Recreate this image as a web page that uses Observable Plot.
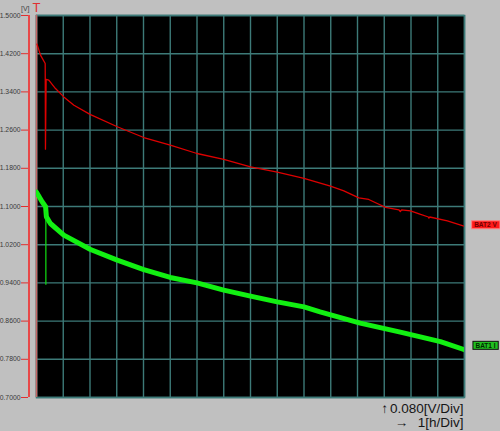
<!DOCTYPE html>
<html><head><meta charset="utf-8">
<style>
html,body{margin:0;padding:0;background:#c0c0c0;}
body{width:500px;height:431px;overflow:hidden;}
svg{display:block;}
</style>
<script src="https://cdn.jsdelivr.net/npm/d3@7"></script>
<script src="https://cdn.jsdelivr.net/npm/@observablehq/plot@0.6"></script>
</head><body><div id="chart"></div>
<script>
// time in hours (1 h per division), voltage in V (0.080 V per division)
const xDivisions = [0,1,2,3,4,5,6,7,8,9,10,11,12,13,14,15,16];
const yTicks = [0.70,0.78,0.86,0.94,1.02,1.10,1.18,1.26,1.34,1.42,1.50];

const bat2Hours = [0.02,0.15,0.325,0.335,0.36,0.46,0.71,1.02,1.40,2.0,3.02,4.01,5.0,6.0,7.0,8.0,9.0,10.0,10.99,11.49,12.05,12.42,12.74,13.05,13.55,13.6,13.65,13.98,14.36,14.65,14.67,14.7,15.36,15.98];
const bat2Volts = [1.440,1.417,1.3995,1.220,1.366,1.3645,1.347,1.3295,1.312,1.293,1.267,1.2445,1.2284,1.211,1.1985,1.183,1.172,1.1587,1.1425,1.1327,1.118,1.1147,1.1063,1.098,1.093,1.0895,1.093,1.0909,1.0833,1.078,1.0755,1.078,1.070,1.0588];

const bat1Hours = [0.0,0.21,0.34,0.37,0.52,1.02,2.02,3.02,4.01,5.0,6.0,7.0,8.0,9.0,10.0,10.6,12.1,13.6,15.1,16.0];
const bat1Volts = [1.130,1.110,1.0995,1.0783,1.0644,1.040,1.010,0.9876,0.968,0.9514,0.940,0.9248,0.9122,0.9003,0.8898,0.8794,0.8557,0.8368,0.817,0.800];

const bat1SpikeHour = [0.35];
const bat1SpikeLow = [0.935];
const bat1SpikeHigh = [1.09];

const traceNames = ["BAT2 V","BAT1 I"];
const scaleTexts = ["0.080[V/Div]","1[h/Div]"];

const bat2 = bat2Hours.map((t,i)=>({t, v:bat2Volts[i]}));
const bat1 = bat1Hours.map((t,i)=>({t, v:bat1Volts[i]}));
const spike = bat1SpikeHour.map((t,i)=>({t, lo:bat1SpikeLow[i], hi:bat1SpikeHigh[i]}));

const grid = "#3d7a78";
const red = "#e03030";
const font = "Liberation Sans, Arial, sans-serif";

const chart = Plot.plot({
  width:500, height:431,
  marginLeft:36, marginRight:36, marginTop:15, marginBottom:34,
  style:{background:"#c0c0c0", fontFamily:font},
  x:{domain:[0,16], axis:null},
  y:{domain:[0.7,1.5], label:null},
  marks:[
    Plot.frame({fill:"black"}),
    Plot.gridX(xDivisions, {stroke:grid, strokeOpacity:1, strokeWidth:1.4}),
    Plot.gridY(yTicks, {stroke:grid, strokeOpacity:1, strokeWidth:1.4}),
    Plot.frame({stroke:grid, strokeWidth:1.6}),
    Plot.ruleX([0], {stroke:"#c86868", strokeWidth:1.6}),
    Plot.axisY(yTicks, {tickFormat:d=>d.toFixed(4), tickSize:7, tickPadding:1, dx:-8, stroke:red, fill:"#3a3a3a", fontSize:6.8, label:null}),
    Plot.ruleX([0], {y1:0.7, y2:1.5, dx:-7.5, stroke:"#e84848", strokeWidth:2}),
    Plot.line(bat1, {x:"t", y:"v", stroke:"#12f012", strokeWidth:5, strokeLinejoin:"round", clip:true}),
    Plot.ruleX(spike, {x:"t", y1:"lo", y2:"hi", stroke:"#12e012", strokeWidth:1.2}),
    Plot.line(bat2, {x:"t", y:"v", stroke:"#dd0000", strokeWidth:1.3, clip:true}),
    Plot.text([0], {x:d=>d, frameAnchor:"top", dy:-8, text:()=>"T", fill:red, fontSize:13, lineAnchor:"middle"}),
    Plot.text([0], {frameAnchor:"top-left", dx:-7, dy:-7, text:()=>"[V]", textAnchor:"end", lineAnchor:"middle", fill:"#444", fontSize:7}),
    Plot.text([bat2[bat2.length-1]], {x:"t", y:"v", dx:21.5, dy:-1, text:()=>traceNames[0], textAnchor:"middle", lineAnchor:"middle", fontSize:6.5, fontWeight:"bold", fill:"#700000"}),
    Plot.text([bat1[bat1.length-1]], {x:"t", y:"v", dx:21, dy:-4, text:()=>traceNames[1], textAnchor:"middle", lineAnchor:"middle", fontSize:6.5, fontWeight:"bold", fill:"#002800"}),
    Plot.text([0], {frameAnchor:"bottom-right", dx:-1, dy:15, text:()=>scaleTexts[0], textAnchor:"end", lineAnchor:"bottom", fontSize:13.5, fill:"#151515"}),
    Plot.text([0], {frameAnchor:"bottom-right", dx:-1, dy:29, text:()=>scaleTexts[1], textAnchor:"end", lineAnchor:"bottom", fontSize:13.5, fill:"#151515"}),
    Plot.text([0], {frameAnchor:"bottom-right", dx:-80, dy:15, text:()=>"↑", textAnchor:"middle", lineAnchor:"bottom", fontSize:13.5, fill:"#151515"}),
    Plot.text([0], {frameAnchor:"bottom-right", dx:-63, dy:29, text:()=>"→", textAnchor:"middle", lineAnchor:"bottom", fontSize:13.5, fill:"#151515"})
  ]
});
document.getElementById("chart").append(chart);

function boxLabel(name, fill, stroke){
  d3.select(chart).selectAll("text").filter(function(){ return this.textContent === name; }).each(function(){
    const b = this.getBBox();
    const r = document.createElementNS("http://www.w3.org/2000/svg","rect");
    r.setAttribute("x", b.x-2.5); r.setAttribute("y", b.y-0.5);
    r.setAttribute("width", b.width+5); r.setAttribute("height", b.height+1);
    r.setAttribute("fill", fill); r.setAttribute("stroke", stroke); r.setAttribute("stroke-width", 1);
    const tr = this.getAttribute("transform"); if (tr) r.setAttribute("transform", tr);
    this.parentNode.insertBefore(r, this);
  });
}
boxLabel(traceNames[0], "#ff1a1a", "#ff8080");
boxLabel(traceNames[1], "#20c020", "#101010");
</script>
</body></html>
